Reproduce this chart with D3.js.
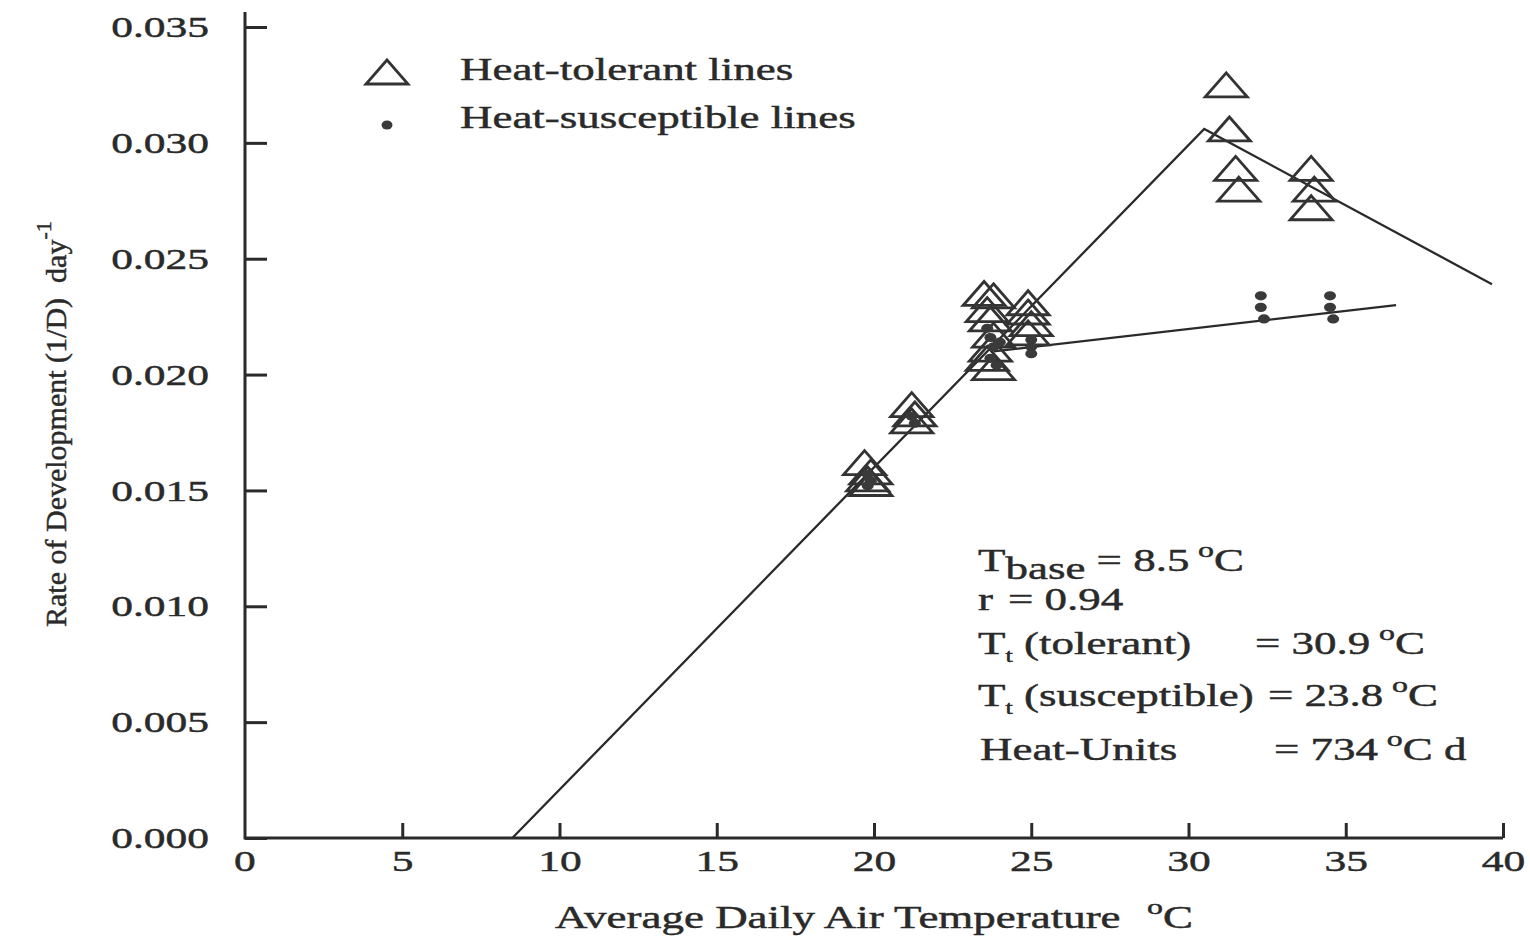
<!DOCTYPE html>
<html>
<head>
<meta charset="utf-8">
<script src="https://cdn.jsdelivr.net/npm/d3@7"></script>
<style>
  html, body { margin: 0; padding: 0; background: #ffffff; }
  svg { display: block; }
  text { font-family: "Liberation Serif", "Times New Roman", serif; fill: #2a2a2a; stroke: #2a2a2a; stroke-width: 0.45px; white-space: pre; }
</style>
</head>
<body>
<svg id="chart" width="1530" height="936"></svg>
<script>
// ---------------- data ----------------
const xTicks = [0, 5, 10, 15, 20, 25, 30, 35, 40];
const yTicks = [0, 0.005, 0.010, 0.015, 0.020, 0.025, 0.030, 0.035];

// Heat-tolerant lines (open triangles)
const tolerantX = [19.7, 19.9, 19.8, 19.9, 21.2, 21.3, 21.2,
                   23.5, 23.8, 23.7, 23.6, 23.8, 23.7, 23.6, 23.8,
                   24.9, 24.9, 25.0, 24.9,
                   31.2, 31.3, 31.5, 31.6,
                   33.9, 34.0, 33.9];
const tolerantY = [0.0162, 0.0158, 0.0155, 0.0153, 0.0187, 0.0183, 0.0180,
                   0.0235, 0.0234, 0.0224, 0.0228, 0.0217, 0.0211, 0.0207, 0.0203,
                   0.0231, 0.0227, 0.0222, 0.0218,
                   0.0325, 0.0306, 0.0289, 0.0280,
                   0.0289, 0.0280, 0.0272];

// Heat-susceptible lines (dots)
const suscX = [19.8, 19.9, 19.8, 21.2, 21.3,
               23.6, 23.7, 23.8, 23.7, 23.9, 24.0,
               25.0, 25.0, 25.0,
               32.3, 32.3, 32.4, 34.5, 34.5, 34.6];
const suscY = [0.0157, 0.0154, 0.0152, 0.0182, 0.0179,
               0.0220, 0.0216, 0.0212, 0.0207, 0.0204, 0.0214,
               0.0215, 0.0212, 0.0209,
               0.0234, 0.0229, 0.0224, 0.0234, 0.0229, 0.0224];

// fitted broken-line models
const tolerantFitX = [8.5, 30.5, 39.65];
const tolerantFitY = [0.0, 0.0306, 0.0239];
const suscFitX = [23.8, 36.6];
const suscFitY = [0.0210, 0.0230];

const legendLabels = ["Heat-tolerant lines", "Heat-susceptible lines"];
const xLabel = "Average Daily Air Temperature";
const yLabel = "Rate of Development (1/D)  day";

// ---------------- layout ----------------
const SX = 1.45;            // horizontal stretch of the scanned typography
const INK = "#2a2a2a";
const svg = d3.select("#chart");
const x = d3.scaleLinear().domain([0, 40]).range([245, 1503]);
const y = d3.scaleLinear().domain([0, 0.035]).range([838, 27]);

// axes
const gx = svg.append("g").attr("transform", `translate(0,${y(0)})`)
  .call(d3.axisBottom(x).tickValues(xTicks.slice(1)).tickSize(-15).tickSizeOuter(0).tickPadding(12).tickFormat(d3.format("d")));
gx.select(".domain").remove();
gx.selectAll(".tick line").attr("stroke", INK).attr("stroke-width", 3);
gx.selectAll(".tick text").attr("font-size", 30).attr("fill", INK)
  .attr("font-family", "Liberation Serif").attr("transform", `scale(${SX},1)`);
// "0" label at origin
svg.append("text").attr("transform", `translate(${x(0)},${y(0) + 12}) scale(${SX},1)`)
  .attr("dy", "0.71em").attr("text-anchor", "middle").attr("font-size", 30).text(xTicks[0]);

const gy = svg.append("g").attr("transform", `translate(${x(0)},0)`)
  .call(d3.axisLeft(y).tickValues(yTicks).tickSize(-22).tickSizeOuter(0).tickFormat(d3.format(".3f")));
gy.select(".domain").remove();
gy.selectAll(".tick line").attr("stroke", INK).attr("stroke-width", 3);
gy.selectAll(".tick text").attr("font-size", 30).attr("fill", INK)
  .attr("font-family", "Liberation Serif")
  .attr("x", -36 / SX).attr("transform", `scale(${SX},1)`);

// axis lines
svg.append("line").attr("x1", x(0)).attr("x2", x(40)).attr("y1", y(0)).attr("y2", y(0))
  .attr("stroke", INK).attr("stroke-width", 3);
svg.append("line").attr("x1", x(0)).attr("x2", x(0)).attr("y1", y(0) + 1.5).attr("y2", 12)
  .attr("stroke", INK).attr("stroke-width", 3);

// fitted lines
const line = d3.line().x(d => x(d[0])).y(d => y(d[1]));
svg.append("path").datum(d3.zip(tolerantFitX, tolerantFitY)).attr("d", line)
  .attr("fill", "none").attr("stroke", INK).attr("stroke-width", 2.3);
svg.append("path").datum(d3.zip(suscFitX, suscFitY)).attr("d", line)
  .attr("fill", "none").attr("stroke", INK).attr("stroke-width", 2.3);

// markers
const TW = 42, TH = 24;
function triPath(cx, cy) {
  return `M${cx},${cy - TH / 2}L${cx + TW / 2},${cy + TH / 2}L${cx - TW / 2},${cy + TH / 2}Z`;
}
svg.append("g").selectAll("path").data(d3.zip(tolerantX, tolerantY)).join("path")
  .attr("d", d => triPath(x(d[0]), y(d[1])))
  .attr("fill", "none").attr("stroke", "#333").attr("stroke-width", 2.8).attr("stroke-linejoin", "miter");
svg.append("g").selectAll("ellipse").data(d3.zip(suscX, suscY)).join("ellipse")
  .attr("cx", d => x(d[0])).attr("cy", d => y(d[1])).attr("rx", 6).attr("ry", 4.6)
  .attr("fill", "#3a3a3a");

// legend
svg.append("path").attr("d", triPath(387, 72)).attr("fill", "none").attr("stroke", "#333").attr("stroke-width", 2.8);
svg.append("ellipse").attr("cx", 387).attr("cy", 125).attr("rx", 5.5).attr("ry", 4.5).attr("fill", "#3a3a3a");
legendLabels.forEach((t, i) => {
  svg.append("text").attr("transform", `translate(460,${80 + i * 48}) scale(${SX},1)`)
    .attr("font-size", 31).text(t);
});

// axis titles
const xt = svg.append("text").attr("transform", `translate(555,928) scale(${SX},1)`).attr("font-size", 31);
xt.append("tspan").text(xLabel);
xt.append("tspan").attr("x", (1147 - 555) / SX).attr("font-size", 22).attr("dy", -14).text("o");
xt.append("tspan").attr("dy", 14).text("C");

const yt = svg.append("text").attr("transform", `translate(66,627) rotate(-90)`).attr("font-size", 30);
yt.append("tspan").text(yLabel);
yt.append("tspan").attr("font-size", 22).attr("dy", -15).text("-1");

// annotation block
const AF = 31;
function stext(X, Y) {
  return svg.append("text").attr("transform", `translate(${X},${Y}) scale(${SX},1)`).attr("font-size", AF);
}
function degC(t, extra) {
  t.append("tspan").attr("dx", 6).attr("font-size", 22).attr("dy", -14).text("o");
  t.append("tspan").attr("dy", 14).text("C" + (extra || ""));
}
const AX = 978;
const t1 = stext(AX, 571);
t1.append("tspan").text("T");
t1.append("tspan").attr("dy", 8).text("base");
t1.append("tspan").attr("dy", -8).text(" = 8.5");
degC(t1);

const t2 = stext(AX, 610);
t2.append("tspan").text("r");
t2.append("tspan").attr("x", (1008 - AX) / SX).text("= 0.94");

const t3 = stext(AX, 654);
t3.append("tspan").text("T");
t3.append("tspan").attr("font-size", 18).attr("dy", 8).text("t");
t3.append("tspan").attr("dy", -8).text(" (tolerant)");
t3.append("tspan").attr("x", (1255 - AX) / SX).text("= 30.9");
degC(t3);

const t4 = stext(AX, 706);
t4.append("tspan").text("T");
t4.append("tspan").attr("font-size", 18).attr("dy", 8).text("t");
t4.append("tspan").attr("dy", -8).text(" (susceptible)");
t4.append("tspan").attr("x", (1268 - AX) / SX).text("= 23.8");
degC(t4);

const t5 = stext(AX + 2, 760);
t5.append("tspan").text("Heat-Units");
t5.append("tspan").attr("x", (1274 - AX - 2) / SX).text("= 734");
degC(t5, " d");
</script>
</body>
</html>
